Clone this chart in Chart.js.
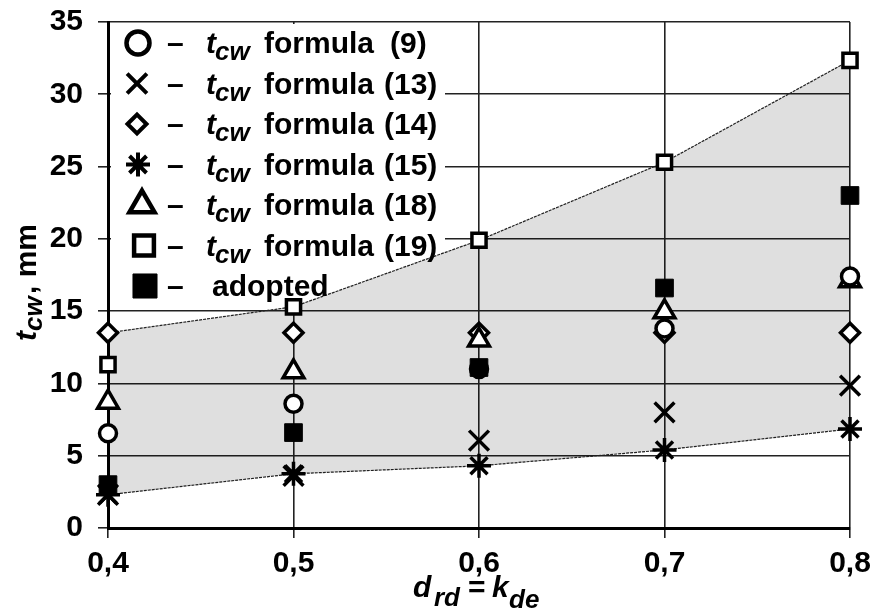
<!DOCTYPE html>
<html>
<head>
<meta charset="utf-8">
<script src="https://cdn.jsdelivr.net/npm/chart.js@4.4.0/dist/chart.umd.min.js"></script>
<style>
  html, body { margin: 0; padding: 0; background: #fff; }
  #wrap { width: 874px; height: 616px; }
</style>
</head>
<body>
<div id="wrap"><canvas id="chart" width="874" height="616"></canvas></div>
<script>
// d_rd = k_de values on the x axis
var xValues = [0.4, 0.5, 0.6, 0.7, 0.8];

// t_cw (mm) for each formula
var f9 = [6.55, 8.6, 11.0, 13.8, 17.4];
var f13 = [2.3, 3.6, 6.05, 8.0, 9.85];
var f14 = [13.5, 13.5, 13.5, 13.5, 13.5];
var f15 = [2.3, 3.75, 4.3, 5.4, 6.85];
var f18 = [8.7, 10.8, 13.0, 14.95, 17.1];
var f19 = [11.3, 15.3, 19.9, 25.3, 32.35];
var adopted = [3.0, 6.6, 11.1, 16.6, 23.0];

// shaded band limits
var upperBand = [13.5, 15.3, 19.9, 25.3, 32.35];
var lowerBand = [2.3, 3.75, 4.3, 5.4, 6.85];

var formulaNumbers = ["(9)", "(13)", "(14)", "(15)", "(18)", "(19)"];

var FONT = '"Liberation Sans", Arial, sans-serif';

function pts(arr) {
    return xValues.map(function (x, i) { return { x: x, y: arr[i] }; });
}

// marker look in the plot; lr/lbw/lx = legend radius, border, x
var markers = {
    f9: { pointStyle: "circle", radius: 8.5, bg: "#fff", bw: 3.5, lr: 11.5, lbw: 4.5, lx: 138 },
    f13: { pointStyle: "crossRot", radius: 14, bg: "#fff", bw: 3.5, lr: 14, lbw: 4, lx: 137 },
    f14: { pointStyle: "rectRot", radius: 9.5, bg: "#fff", bw: 3.5, lr: 9.5, lbw: 4, lx: 137 },
    f15: { pointStyle: "star", radius: 12, bg: "#fff", bw: 3.5, lr: 12, lbw: 4, lx: 138 },
    f18: { pointStyle: "triangle", radius: 12, bg: "#fff", bw: 3.5, lr: 14.5, lbw: 4.5, lx: 142 },
    f19: { pointStyle: "rect", radius: 10, bg: "#fff", bw: 3.5, lr: 14, lbw: 4.5, lx: 144 },
    adopted: { pointStyle: "rect", radius: 12.5, bg: "#000", bw: 1, lr: 17, lbw: 1, lx: 145 }
};

function markerSet(label, arr, m) {
    return {
        label: label,
        data: pts(arr),
        showLine: false,
        clip: false,
        pointStyle: m.pointStyle,
        pointRadius: m.radius,
        pointBackgroundColor: m.bg,
        pointBorderColor: "#000",
        pointBorderWidth: m.bw
    };
}

function noPad(s) {
    s.paddingTop = 0;
    s.paddingBottom = 0;
    s.paddingLeft = 0;
    s.paddingRight = 0;
}

var legendPlugin = {
    id: "paperLegend",
    beforeDatasetsDraw: function (chart) {
        var ctx = chart.ctx;
        ctx.save();
        ctx.fillStyle = "#fff";
        ctx.fillRect(111, 24, 334, 277);
        ctx.restore();
    },
    afterDatasetsDraw: function (chart) {
        var ctx = chart.ctx;
        var keys = ["f9", "f13", "f14", "f15", "f18", "f19", "adopted"];
        ctx.save();
        keys.forEach(function (k, i) {
            var cy = 43 + i * 40.5;
            var base = cy + 10;
            var m = markers[k];
            ctx.fillStyle = m.bg;
            ctx.strokeStyle = "#000";
            ctx.lineWidth = m.lbw;
            Chart.helpers.drawPoint(ctx, { pointStyle: m.pointStyle, radius: m.lr, rotation: 0, borderWidth: m.lbw }, m.lx, cy);
            ctx.fillStyle = "#000";
            ctx.textBaseline = "alphabetic";
            ctx.textAlign = "left";
            ctx.font = "bold 30px " + FONT;
            ctx.fillText("\u2013", 167, base);
            if (k === "adopted") {
                ctx.fillText("adopted", 212, base);
                return;
            }
            ctx.font = "italic bold 30px " + FONT;
            ctx.fillText("t", 206, base);
            ctx.font = "italic bold 26px " + FONT;
            ctx.fillText("cw", 215, base + 7);
            ctx.font = "bold 30px " + FONT;
            ctx.fillText("formula", 264, base);
            ctx.fillText(formulaNumbers[i], i === 0 ? 390 : 384, base);
        });
        ctx.restore();
    },
    afterDraw: function (chart) {
        var ctx = chart.ctx;
        ctx.save();
        ctx.fillStyle = "#000";
        ctx.textBaseline = "alphabetic";
        ctx.textAlign = "left";
        // y title
        ctx.translate(36, 341);
        ctx.rotate(-Math.PI / 2);
        ctx.font = "italic bold 30px " + FONT;
        ctx.fillText("t", 0, 0);
        ctx.font = "italic bold 26px " + FONT;
        ctx.fillText("cw", 10, 6);
        ctx.font = "bold 30px " + FONT;
        ctx.fillText(", mm", 47, 0);
        ctx.setTransform(1, 0, 0, 1, 0, 0);
        // x title
        ctx.font = "italic bold 30px " + FONT;
        ctx.fillText("d", 413, 597);
        ctx.font = "italic bold 26px " + FONT;
        ctx.fillText("rd", 434, 606);
        ctx.font = "bold 30px " + FONT;
        ctx.fillText("=", 468, 597);
        ctx.font = "italic bold 30px " + FONT;
        ctx.fillText("k", 492, 597);
        ctx.font = "italic bold 26px " + FONT;
        ctx.fillText("de", 509, 608);
        ctx.restore();
    }
};

document.addEventListener("DOMContentLoaded", function () {
    var ctx = document.getElementById("chart").getContext("2d");
    new Chart(ctx, {
        type: "line",
        data: {
            datasets: [
                markerSet("adopted", adopted, markers.adopted),
                markerSet("formula (9)", f9, markers.f9),
                markerSet("formula (13)", f13, markers.f13),
                markerSet("formula (15)", f15, markers.f15),
                markerSet("formula (18)", f18, markers.f18),
                markerSet("formula (14)", f14, markers.f14),
                markerSet("formula (19)", f19, markers.f19),
                {
                    label: "upper",
                    data: pts(upperBand),
                    borderColor: "#222",
                    borderWidth: 1.2,
                    borderDash: [3, 1],
                    pointRadius: 0,
                    backgroundColor: "rgba(0,0,0,0.125)",
                    fill: "+1"
                },
                {
                    label: "lower",
                    data: pts(lowerBand),
                    borderColor: "#222",
                    borderWidth: 1.2,
                    borderDash: [3, 1],
                    pointRadius: 0,
                    fill: false
                }
            ]
        },
        options: {
            responsive: false,
            animation: false,
            layout: { padding: { left: 0, top: 22, right: 24, bottom: 0 } },
            plugins: {
                legend: { display: false },
                tooltip: { enabled: false }
            },
            scales: {
                x: {
                    type: "linear",
                    min: 0.4,
                    max: 0.8,
                    afterFit: function (s) { s.height = 88; noPad(s); },
                    afterBuildTicks: function (s) {
                        s.ticks = xValues.map(function (v) { return { value: v }; });
                    },
                    ticks: {
                        color: "#000",
                        padding: 8,
                        font: { family: FONT, size: 30, weight: "bold" },
                        callback: function (v) { return v.toFixed(1).replace(".", ","); }
                    },
                    grid: { color: "#222", lineWidth: 1.6, tickLength: 10 },
                    border: { color: "#000", width: 3 }
                },
                y: {
                    min: 0,
                    max: 35,
                    afterFit: function (s) { s.width = 108; noPad(s); },
                    ticks: {
                        stepSize: 5,
                        color: "#000",
                        padding: 15,
                        font: { family: FONT, size: 30, weight: "bold" }
                    },
                    grid: { color: "#222", lineWidth: 1.6, tickLength: 10 },
                    border: { color: "#000", width: 3 }
                }
            }
        },
        plugins: [legendPlugin]
    });
});
</script>
</body>
</html>
